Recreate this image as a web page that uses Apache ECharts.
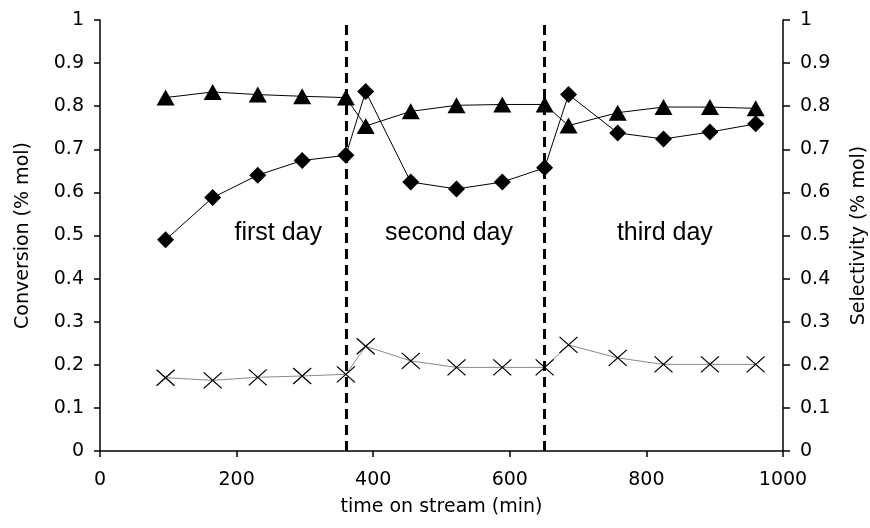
<!DOCTYPE html>
<html>
<head>
<meta charset="utf-8">
<script src="https://cdn.jsdelivr.net/npm/echarts@6/dist/echarts.min.js"></script>
<style>
  html, body { margin: 0; padding: 0; background: #fff; }
  #echart { width: 870px; height: 528px; }
</style>
</head>
<body>
<div id="echart"></div>
<script>
// time on stream (min)
var times = [96, 165, 231, 296, 360, 389, 455, 522, 589, 651, 686, 758, 825, 893, 960];
// selectivity (triangles)
var triangles = [0.82, 0.833, 0.827, 0.823, 0.82, 0.754, 0.788, 0.802, 0.804, 0.804, 0.755, 0.785, 0.798, 0.798, 0.795];
// conversion (diamonds)
var diamonds = [0.49, 0.588, 0.64, 0.674, 0.686, 0.834, 0.624, 0.608, 0.624, 0.657, 0.827, 0.738, 0.724, 0.74, 0.759];
// crosses
var crosses = [0.17, 0.164, 0.171, 0.174, 0.178, 0.243, 0.209, 0.194, 0.194, 0.194, 0.246, 0.216, 0.201, 0.201, 0.201];
// day boundaries and labels
var dayBreaks = [360, 651];
var dayNames = ['first day', 'second day', 'third day'];
var dayPos = [[261, 0.505], [511, 0.505], [827, 0.505]];

function pairs(xs, ys){
    var out = [];
    for (var i = 0; i < xs.length; i++) out.push([xs[i], ys[i]]);
    return out;
}

var font = 'DejaVu Sans, Verdana, sans-serif';
var axisText = { color: '#000', fontFamily: font, fontSize: 19 };

var echart = echarts.init(document.getElementById('echart'));
echart.setOption({
    animation: false,
    grid: { left: 100, right: 87, top: 20, bottom: 77, containLabel: false, outerBoundsMode: 'none' },
    xAxis: {
        type: 'value',
        min: 0, max: 1000, interval: 200,
        name: 'time on stream (min)',
        nameLocation: 'middle',
        nameGap: 47,
        nameTextStyle: axisText,
        axisLine: { lineStyle: { color: '#000', width: 1.5 } },
        axisTick: { show: true, length: 6, lineStyle: { color: '#000', width: 1.5 } },
        axisLabel: { margin: 20, color: '#000', fontFamily: font, fontSize: 19,
            formatter: function(v){ return String(v); } },
        splitLine: { show: false }
    },
    yAxis: [{
        type: 'value',
        min: 0, max: 1, interval: 0.1,
        name: 'Conversion (% mol)',
        nameLocation: 'middle',
        nameRotate: 90,
        nameGap: 67,
        nameTextStyle: axisText,
        axisLine: { show: true, lineStyle: { color: '#000', width: 1.5 } },
        axisTick: { show: true, length: 6, lineStyle: { color: '#000', width: 1.5 } },
        axisLabel: { margin: 16, color: '#000', fontFamily: font, fontSize: 19 },
        splitLine: { show: false }
    }, {
        type: 'value',
        position: 'right',
        min: 0, max: 1, interval: 0.1,
        name: 'Selectivity (% mol)',
        nameLocation: 'middle',
        nameRotate: 90,
        nameGap: 67,
        nameTextStyle: axisText,
        axisLine: { show: true, lineStyle: { color: '#000', width: 1.5 } },
        axisTick: { show: true, length: 7, lineStyle: { color: '#000', width: 1.5 } },
        axisLabel: { margin: 17, color: '#000', fontFamily: font, fontSize: 19 },
        splitLine: { show: false }
    }],
    series: [
        {
            name: 'selectivity',
            type: 'line',
            yAxisIndex: 1,
            data: pairs(times, triangles),
            symbol: 'triangle',
            symbolSize: [18, 16],
            lineStyle: { color: '#000', width: 1 },
            itemStyle: { color: '#000' },
            z: 3
        },
        {
            name: 'conversion',
            type: 'line',
            data: pairs(times, diamonds),
            symbol: 'diamond',
            symbolSize: [17, 17],
            lineStyle: { color: '#000', width: 1 },
            itemStyle: { color: '#000' },
            z: 3
        },
        {
            name: 'crosses',
            type: 'line',
            data: pairs(times, crosses),
            symbol: 'path://M0,0L10,10M10,0L0,10',
            symbolSize: [18, 16],
            lineStyle: { color: '#888', width: 1 },
            itemStyle: { color: 'none', borderColor: '#000', borderWidth: 1.2 },
            z: 3
        },
        {
            name: 'days',
            type: 'scatter',
            data: dayPos.map(function(p, i){ return { value: p, name: dayNames[i] }; }),
            symbolSize: 0,
            silent: true,
            itemStyle: { opacity: 1, color: '#000' },
            label: {
                show: true,
                position: 'inside',
                formatter: '{b}',
                color: '#000',
                opacity: 1,
                textBorderWidth: 0,
                fontFamily: 'Liberation Sans, Arial, sans-serif',
                fontSize: 25
            },
            markLine: {
                silent: true,
                symbol: 'none',
                label: { show: false },
                lineStyle: { color: '#000', type: [10, 6], width: 3, opacity: 1 },
                data: dayBreaks.map(function(x){ return { xAxis: x }; })
            },
            z: 2
        }
    ]
});
</script>
</body>
</html>
